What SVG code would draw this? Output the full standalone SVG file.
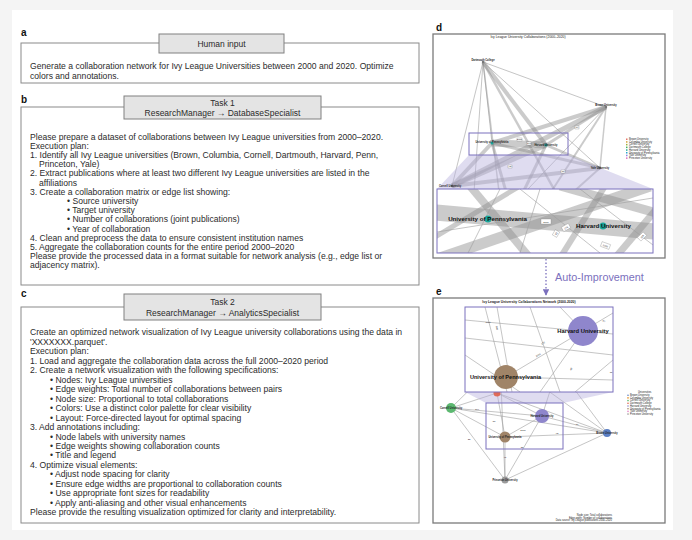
<svg xmlns="http://www.w3.org/2000/svg" width="692" height="540" viewBox="0 0 692 540">
<style>
.t{font-family:"Liberation Sans",Arial,sans-serif;font-size:8.6px;fill:#2b2b2b}
.lbl{font-family:"Liberation Sans",Arial,sans-serif;font-size:10px;font-weight:bold;fill:#111}
.hdr{font-family:"Liberation Sans",Arial,sans-serif;font-size:8.5px;fill:#2b2b2b;text-anchor:middle}
.box{fill:none;stroke:#8a8a8a;stroke-width:1}
.tab{fill:#e4e4e4;stroke:#808080;stroke-width:1}
.frame{fill:#fff;stroke:#7a7a7a;stroke-width:1.3}
.insetn{fill:none;stroke:#7b70bd;stroke-width:1}
.shade{fill:#b8b1de;opacity:.45}
.ln{stroke:#9d9d9d;stroke-width:.6;fill:none}
.bd{stroke:#8c8c8c;opacity:.45;fill:none}
.tiny{font-family:"Liberation Sans",Arial,sans-serif;font-size:2.6px;fill:#222}
.ttl{font-family:"Liberation Sans",Arial,sans-serif;font-size:3.4px;fill:#222;text-anchor:middle}
.el{fill:#fff;stroke:#777;stroke-width:.3}
.elt{font-family:"Liberation Sans",Arial,sans-serif;font-size:2.4px;fill:#222;text-anchor:middle}
.nl{font-family:"Liberation Sans",Arial,sans-serif;font-weight:bold;fill:#111}
</style>
<defs>
<marker id="ah" viewBox="0 0 10 10" refX="9" refY="5" markerWidth="5" markerHeight="5" orient="auto">
<path d="M0,0 L10,5 L0,10 z" fill="#7b70bd"/>
</marker>
<clipPath id="cd"><rect x="433" y="34" width="232" height="224"/></clipPath>
<clipPath id="cdi"><rect x="437" y="189" width="216" height="64"/></clipPath>
<clipPath id="ce"><rect x="433" y="298" width="232" height="225"/></clipPath>
<clipPath id="cei"><rect x="465" y="307" width="148" height="85"/></clipPath>
</defs>
<rect x="0" y="0" width="692" height="540" fill="#f4f4f4"/>
<rect x="12" y="10" width="661" height="520" fill="#ffffff"/>

<!-- Panel a -->
<g id="panel-a">
<text class="lbl" x="21" y="36">a</text>
<rect class="box" x="21" y="43" width="398" height="40"/>
<rect class="tab" x="159" y="34" width="125" height="19"/>
<text class="hdr" x="221.5" y="46.5">Human input</text>
<text class="t" x="30" y="69">Generate a collaboration network for Ivy League Universities between 2000 and 2020. Optimize</text>
<text class="t" x="30" y="78.5">colors and annotations.</text>
</g>

<!-- Panel b -->
<g id="panel-b">
<text class="lbl" x="21" y="103">b</text>
<rect class="box" x="21" y="107" width="398" height="178"/>
<rect class="tab" x="124" y="96" width="197" height="23"/>
<text class="hdr" x="222.5" y="106">Task 1</text>
<text class="hdr" x="222.5" y="115.5">ResearchManager → DatabaseSpecialist</text>
<text class="t" x="30" y="139.5">Please prepare a dataset of collaborations between Ivy League universities from 2000–2020.</text>
<text class="t" x="30" y="148.7">Execution plan:</text>
<text class="t" x="30" y="157.9">1. Identify all Ivy League universities (Brown, Columbia, Cornell, Dartmouth, Harvard, Penn,</text>
<text class="t" x="39" y="167.1">Princeton, Yale)</text>
<text class="t" x="30" y="176.3">2. Extract publications where at least two different Ivy League universities are listed in the</text>
<text class="t" x="39" y="185.5">affiliations</text>
<text class="t" x="30" y="194.7">3. Create a collaboration matrix or edge list showing:</text>
<text class="t" x="67" y="203.9">• Source university</text>
<text class="t" x="67" y="213.1">• Target university</text>
<text class="t" x="67" y="222.3">• Number of collaborations (joint publications)</text>
<text class="t" x="67" y="231.5">• Year of collaboration</text>
<text class="t" x="30" y="240.7">4. Clean and preprocess the data to ensure consistent institution names</text>
<text class="t" x="30" y="249.9">5. Aggregate the collaboration counts for the entire period 2000–2020</text>
<text class="t" x="30" y="259.1">Please provide the processed data in a format suitable for network analysis (e.g., edge list or</text>
<text class="t" x="30" y="268.3">adjacency matrix).</text>
</g>

<!-- Panel c -->
<g id="panel-c">
<text class="lbl" x="21" y="297">c</text>
<rect class="box" x="21" y="307" width="398" height="216"/>
<rect class="tab" x="124" y="294" width="197" height="26"/>
<text class="hdr" x="222.5" y="304.5">Task 2</text>
<text class="hdr" x="222.5" y="316">ResearchManager → AnalyticsSpecialist</text>
<text class="t" x="30" y="335.3">Create an optimized network visualization of Ivy League university collaborations using the data in</text>
<text class="t" x="30" y="344.8">'XXXXXXX.parquet'.</text>
<text class="t" x="30" y="354.2">Execution plan:</text>
<text class="t" x="30" y="363.7">1. Load and aggregate the collaboration data across the full 2000–2020 period</text>
<text class="t" x="30" y="373.2">2. Create a network visualization with the following specifications:</text>
<text class="t" x="50" y="382.7">• Nodes: Ivy League universities</text>
<text class="t" x="50" y="392.1">• Edge weights: Total number of collaborations between pairs</text>
<text class="t" x="50" y="401.6">• Node size: Proportional to total collaborations</text>
<text class="t" x="50" y="411.1">• Colors: Use a distinct color palette for clear visibility</text>
<text class="t" x="50" y="420.5">• Layout: Force-directed layout for optimal spacing</text>
<text class="t" x="30" y="430">3. Add annotations including:</text>
<text class="t" x="50" y="439.5">• Node labels with university names</text>
<text class="t" x="50" y="449">• Edge weights showing collaboration counts</text>
<text class="t" x="50" y="458.4">• Title and legend</text>
<text class="t" x="30" y="467.9">4. Optimize visual elements:</text>
<text class="t" x="50" y="477.4">• Adjust node spacing for clarity</text>
<text class="t" x="50" y="486.8">• Ensure edge widths are proportional to collaboration counts</text>
<text class="t" x="50" y="496.3">• Use appropriate font sizes for readability</text>
<text class="t" x="50" y="505.8">• Apply anti-aliasing and other visual enhancements</text>
<text class="t" x="30" y="515.2">Please provide the resulting visualization optimized for clarity and interpretability.</text>
</g>

<!-- Panel d -->
<g id="panel-d">
<text class="lbl" x="436" y="31">d</text>
<rect class="frame" x="433" y="34" width="232" height="224"/>
<text class="ttl" x="528" y="38">Ivy League University Collaborations (2000–2020)</text>
<g id="d-connectors" clip-path="url(#cd)">
<line class="ln" x1="483" y1="62" x2="606" y2="107"/>
<line class="ln" x1="483" y1="62" x2="452" y2="186"/>
<line class="ln" x1="483" y1="62" x2="492" y2="143"/>
<line class="ln" x1="483" y1="62" x2="470" y2="250"/>
<line class="ln" x1="483" y1="62" x2="600" y2="168"/>
<line class="bd" stroke-width="1.5" x1="483" y1="62" x2="505" y2="240"/>
<line class="bd" stroke-width="4" x1="483" y1="62" x2="546" y2="145"/>
<line class="bd" stroke-width="2.5" x1="483" y1="62" x2="560" y2="200"/>
<line class="bd" stroke-width="5" x1="606" y1="107" x2="452" y2="186"/>
<line class="bd" stroke-width="4" x1="606" y1="107" x2="492" y2="143"/>
<line class="bd" stroke-width="3" x1="606" y1="107" x2="546" y2="145"/>
<line class="bd" stroke-width="1.5" x1="606" y1="107" x2="600" y2="168"/>
<line class="bd" stroke-width="2" x1="606" y1="107" x2="520" y2="240"/>
<line class="ln" x1="606" y1="107" x2="470" y2="250"/>
<line class="bd" stroke-width="4" x1="600" y1="168" x2="452" y2="186"/>
<line class="bd" stroke-width="3" x1="600" y1="168" x2="492" y2="143"/>
<line class="bd" stroke-width="2.5" x1="600" y1="168" x2="546" y2="145"/>
<line class="bd" stroke-width="2" x1="600" y1="168" x2="520" y2="240"/>
<line class="bd" stroke-width="4" x1="452" y1="186" x2="492" y2="143"/>
<line class="bd" stroke-width="5" x1="452" y1="186" x2="546" y2="145"/>
<line class="bd" stroke-width="3" x1="492" y1="143" x2="520" y2="240"/>
<line class="bd" stroke-width="3" x1="546" y1="145" x2="500" y2="240"/>
<line class="bd" stroke-width="7" x1="492" y1="143" x2="546" y2="145"/>
</g>
<polygon class="shade" points="469,155 568,155 653,189 437,189"/>
<rect class="insetn" x="469" y="133" width="99" height="22"/>
<g id="d-edge-labels">
<rect class="el" x="517" y="138" width="5" height="3"/><text class="elt" x="519.5" y="140.2">2000</text>
<rect class="el" x="527" y="142" width="4" height="3"/><text class="elt" x="529" y="144.2">176</text>
<rect class="el" x="508" y="165" width="4" height="3"/><text class="elt" x="510" y="167.2">92</text>
<rect class="el" x="561" y="170" width="4" height="3"/><text class="elt" x="563" y="172.2">88</text>
<rect class="el" x="575" y="126" width="4" height="3"/><text class="elt" x="577" y="128.2">84</text>
</g>
<g id="d-nodes">
<circle cx="483" cy="62" r="1.2" fill="#777"/>
<text class="tiny" x="483" y="61" text-anchor="middle" font-weight="bold">Dartmouth College</text>
<circle cx="606" cy="107" r="1.2" fill="#777"/>
<text class="tiny" x="606" y="106" text-anchor="middle" font-weight="bold">Brown University</text>
<circle cx="600" cy="168" r="1.2" fill="#777"/>
<text class="tiny" x="600" y="168.5" text-anchor="middle" font-weight="bold">Yale University</text>
<circle cx="452" cy="186" r="1.2" fill="#777"/>
<text class="tiny" x="450" y="186.5" text-anchor="middle" font-weight="bold">Cornell University</text>
<circle cx="492" cy="143" r="1.5" fill="#1aa59a"/>
<text class="tiny" x="492" y="142.5" text-anchor="middle" font-weight="bold">University of Pennsylvania</text>
<circle cx="546" cy="145" r="1.5" fill="#1aa59a"/>
<text class="tiny" x="546" y="145.5" text-anchor="middle" font-weight="bold">Harvard University</text>
</g>
<g id="d-legend">
<rect x="626" y="138.5" width="1.5" height="1.5" fill="#e8746a"/><text class="tiny" x="629" y="140">Brown University</text>
<rect x="626" y="141.2" width="1.5" height="1.5" fill="#d4a13a"/><text class="tiny" x="629" y="142.7">Columbia University</text>
<rect x="626" y="143.9" width="1.5" height="1.5" fill="#a2b03a"/><text class="tiny" x="629" y="145.4">Cornell University</text>
<rect x="626" y="146.6" width="1.5" height="1.5" fill="#44b35a"/><text class="tiny" x="629" y="148.1">Dartmouth College</text>
<rect x="626" y="149.3" width="1.5" height="1.5" fill="#22ab9a"/><text class="tiny" x="629" y="150.8">Harvard University</text>
<rect x="626" y="152" width="1.5" height="1.5" fill="#2aa6cf"/><text class="tiny" x="629" y="153.5">University of Pennsylvania</text>
<rect x="626" y="154.7" width="1.5" height="1.5" fill="#8f86e0"/><text class="tiny" x="629" y="156.2">Yale University</text>
<rect x="626" y="157.4" width="1.5" height="1.5" fill="#e070c8"/><text class="tiny" x="629" y="158.9">Princeton University</text>
</g>
<g id="d-zoom">
<rect x="437" y="189" width="216" height="64" fill="#fff"/>
<g clip-path="url(#cdi)">
<line class="bd" stroke-width="16" x1="430" y1="212" x2="660" y2="232"/>
<line class="bd" stroke-width="11" x1="440" y1="258" x2="650" y2="186"/>
<line class="bd" stroke-width="8" x1="470" y1="186" x2="530" y2="258"/>
<line class="bd" stroke-width="9" x1="560" y1="186" x2="660" y2="214"/>
<line class="bd" stroke-width="6" x1="605" y1="186" x2="560" y2="258"/>
<line class="bd" stroke-width="7" x1="615" y1="258" x2="660" y2="205"/>
<line class="bd" stroke-width="10" x1="470" y1="258" x2="640" y2="258"/>
<line class="bd" stroke-width="5" x1="430" y1="240" x2="520" y2="186"/>
<line class="ln" x1="500" y1="189" x2="468" y2="253"/>
<line class="ln" x1="520" y1="189" x2="600" y2="253"/>
<line class="ln" x1="437" y1="232" x2="653" y2="198"/>
<line class="ln" x1="580" y1="189" x2="653" y2="245"/>
<line class="ln" x1="540" y1="189" x2="520" y2="253"/>
</g>
<rect class="insetn" x="437" y="189" width="216" height="64"/>
<rect class="el" x="541" y="219" width="10" height="5"/><text class="elt" x="546" y="222.6" font-size="3.4px">2000</text>
<rect class="el" x="562" y="225" width="8" height="5" transform="rotate(-30 566 227.5)"/><text class="elt" x="566" y="228.7" font-size="3.4px" transform="rotate(-30 566 227.5)">176</text>
<rect class="el" x="553" y="231" width="6" height="5" transform="rotate(-60 556 233.5)"/><text class="elt" x="556" y="234.7" font-size="3.4px" transform="rotate(-60 556 233.5)">92</text>
<rect class="el" x="601" y="243" width="9" height="5" transform="rotate(20 605.5 245.5)"/><text class="elt" x="605.5" y="246.7" font-size="3.4px" transform="rotate(20 605.5 245.5)">1240</text>
<rect class="el" x="638" y="234" width="8" height="5" transform="rotate(-45 642 236.5)"/><text class="elt" x="642" y="237.7" font-size="3.4px" transform="rotate(-45 642 236.5)">128</text>
<circle cx="488" cy="219" r="3.5" fill="#1aa59a"/>
<text class="nl" x="487.5" y="221" font-size="6.2px" text-anchor="middle">University of Pennsylvania</text>
<circle cx="603" cy="226" r="3.5" fill="#1aa59a"/>
<text class="nl" x="603.5" y="228" font-size="6.2px" text-anchor="middle">Harvard University</text>
</g>
</g>

<!-- Auto-improvement link -->
<g id="connectors">
<line x1="546" y1="259" x2="546" y2="295" stroke="#7b70bd" stroke-width="1.3" stroke-dasharray="1.5,2" marker-end="url(#ah)"/>
<text x="555" y="281" font-family="'Liberation Sans',Arial,sans-serif" font-size="10.8px" fill="#7b70bd">Auto-Improvement</text>
</g>

<!-- Panel e -->
<g id="panel-e">
<text class="lbl" x="436" y="295">e</text>
<rect class="frame" x="433" y="298" width="232" height="225"/>
<text class="ttl" x="529" y="302.5" font-weight="bold">Ivy League University Collaborations Network (2000-2020)</text>
<g id="e-connectors" clip-path="url(#ce)">
<line class="ln" stroke-width=".5" x1="451" y1="408" x2="542" y2="416"/>
<line class="ln" stroke-width=".5" x1="451" y1="408" x2="505" y2="437"/>
<line class="ln" stroke-width=".4" x1="451" y1="408" x2="505" y2="480"/>
<line class="ln" stroke-width=".4" x1="451" y1="408" x2="607" y2="433"/>
<line class="ln" stroke-width=".5" x1="451" y1="408" x2="497" y2="393"/>
<line class="ln" stroke-width=".5" x1="451" y1="408" x2="500" y2="360"/>
<line class="ln" stroke-width="1.6" x1="505" y1="437" x2="542" y2="416"/>
<line class="ln" stroke-width=".6" x1="542" y1="416" x2="607" y2="433"/>
<line class="ln" stroke-width=".6" x1="505" y1="437" x2="607" y2="433"/>
<line class="ln" stroke-width=".5" x1="505" y1="437" x2="505" y2="480"/>
<line class="ln" stroke-width=".4" x1="542" y1="416" x2="505" y2="480"/>
<line class="ln" stroke-width=".3" x1="607" y1="433" x2="505" y2="480"/>
<line class="ln" stroke-width=".8" x1="497" y1="393" x2="505" y2="437"/>
<line class="ln" stroke-width=".6" x1="497" y1="393" x2="542" y2="416"/>
<line class="ln" stroke-width=".4" x1="497" y1="393" x2="607" y2="433"/>
<line class="ln" stroke-width=".6" x1="542" y1="416" x2="560" y2="360"/>
<line class="ln" stroke-width=".5" x1="607" y1="433" x2="560" y2="370"/>
<line class="ln" stroke-width=".4" x1="505" y1="480" x2="500" y2="360"/>
<line class="ln" stroke-width=".4" x1="607" y1="433" x2="505" y2="360"/>
</g>
<polygon class="shade" points="465,392 613,392 563,403 486,403"/>
<rect class="insetn" x="486" y="403" width="77" height="46"/>
<g id="e-edge-labels">
<text class="elt" x="477" y="410">104</text>
<text class="elt" x="494" y="422">58</text>
<text class="elt" x="523" y="431">2000</text>
<text class="elt" x="577" y="425">76</text>
<text class="elt" x="557" y="434">92</text>
<text class="elt" x="469" y="440">22</text>
<text class="elt" x="505" y="458">41</text>
<text class="elt" x="522" y="448">35</text>
</g>
<g id="e-nodes">
<circle cx="497" cy="393" r="3.5" fill="#e0604a" opacity=".9"/>
<g id="e-cornell"><circle cx="451" cy="408" r="5" fill="#5cb870"/><text class="tiny" x="451" y="409" text-anchor="middle" font-weight="bold">Cornell University</text></g>
<g id="e-harvard"><circle cx="542" cy="416" r="7" fill="#8f86cc"/><text class="tiny" x="542" y="417" text-anchor="middle" font-weight="bold">Harvard University</text></g>
<g id="e-penn"><circle cx="505" cy="437" r="5.5" fill="#a08468"/><text class="tiny" x="505" y="438" text-anchor="middle" font-weight="bold">University of Pennsylvania</text></g>
<g id="e-brown"><circle cx="607" cy="433" r="4" fill="#5b7fc4"/><text class="tiny" x="607" y="434" text-anchor="middle" font-weight="bold">Brown University</text></g>
<g id="e-princeton"><circle cx="505" cy="480" r="3.5" fill="#9a9a9a"/><text class="tiny" x="505" y="481" text-anchor="middle" font-weight="bold">Princeton University</text></g>
</g>
<g id="e-legend">
<text class="tiny" x="638" y="393">Universities</text>
<circle cx="628" cy="395.2" r=".8" fill="#5b7fc4"/><text class="tiny" x="630" y="396">Brown University</text>
<circle cx="628" cy="397.9" r=".8" fill="#e8902a"/><text class="tiny" x="630" y="398.7">Columbia University</text>
<circle cx="628" cy="400.6" r=".8" fill="#5cb870"/><text class="tiny" x="630" y="401.4">Cornell University</text>
<circle cx="628" cy="403.3" r=".8" fill="#e0604a"/><text class="tiny" x="630" y="404.1">Dartmouth College</text>
<circle cx="628" cy="406" r=".8" fill="#8f86cc"/><text class="tiny" x="630" y="406.8">Harvard University</text>
<circle cx="628" cy="408.7" r=".8" fill="#a08468"/><text class="tiny" x="630" y="409.5">University of Pennsylvania</text>
<circle cx="628" cy="411.4" r=".8" fill="#e58ac8"/><text class="tiny" x="630" y="412.2">Yale University</text>
<circle cx="628" cy="414.1" r=".8" fill="#9a9a9a"/><text class="tiny" x="630" y="414.9">Princeton University</text>
</g>
<g id="e-zoom">
<rect x="465" y="307" width="148" height="85" fill="#fff"/>
<g clip-path="url(#cei)">
<line class="ln" stroke="#c4c4c4" stroke-width="2.2" x1="465" y1="320" x2="613" y2="334"/>
<line class="ln" stroke="#d6d6d6" stroke-width=".7" x1="465" y1="338" x2="613" y2="355"/>
<line class="ln" stroke="#c0c0c0" stroke-width="2.2" x1="485" y1="307" x2="507" y2="392"/>
<line class="ln" stroke="#d0d0d0" stroke-width="1.2" x1="497" y1="307" x2="512" y2="392"/>
<line class="ln" stroke="#d6d6d6" stroke-width=".7" x1="465" y1="355" x2="520" y2="392"/>
<line class="ln" stroke="#c8c8c8" stroke-width="2.2" x1="583" y1="331" x2="613" y2="313"/>
<line class="ln" stroke="#bdbdbd" stroke-width="3" x1="560" y1="307" x2="583" y2="331"/>
<line class="ln" stroke="#d6d6d6" stroke-width=".8" x1="583" y1="331" x2="540" y2="392"/>
<line class="ln" stroke="#d6d6d6" stroke-width=".7" x1="506" y1="377" x2="613" y2="380"/>
<line class="ln" stroke="#d6d6d6" stroke-width=".6" x1="530" y1="307" x2="560" y2="392"/>
<line class="ln" stroke="#d6d6d6" stroke-width=".6" x1="613" y1="360" x2="575" y2="392"/>
<line class="ln" stroke="#bdbdbd" stroke-width="4" x1="506" y1="377" x2="583" y2="331"/>
</g>
<text class="elt" x="488" y="323" font-size="3.4px">1011</text>
<text class="elt" x="497" y="329" font-size="3.4px" transform="rotate(80 497 328)">849</text>
<text class="elt" x="543" y="344" font-size="3.4px" transform="rotate(-30 543 343)">176</text>
<text class="elt" x="538" y="356" font-size="3.4px" transform="rotate(-30 538 355)">2000</text>
<text class="elt" x="604" y="322" font-size="3.4px" transform="rotate(30 604 321)">92</text>
<text class="elt" x="571" y="370" font-size="3.4px" transform="rotate(-60 571 369)">48</text>
<text class="elt" x="611" y="373" font-size="3.4px">15</text>
<circle cx="583" cy="331" r="15" fill="#8f86cc"/>
<circle cx="506" cy="377" r="12" fill="#a08468"/>
<text class="nl" x="583" y="333" font-size="5.8px" text-anchor="middle">Harvard University</text>
<text class="nl" x="505.5" y="379" font-size="5.6px" text-anchor="middle">University of Pennsylvania</text>
<rect class="insetn" x="465" y="307" width="148" height="85"/>
</g>
<text class="tiny" x="612" y="516" text-anchor="end" font-size="2.2px">Node size: Total collaborations</text>
<text class="tiny" x="612" y="518.5" text-anchor="end" font-size="2.2px">Edge width: Number of collaborations</text>
<text class="tiny" x="612" y="521" text-anchor="end" font-size="2.2px">Data source: Ivy League publications 2000–2020</text>
</g>
</svg>
